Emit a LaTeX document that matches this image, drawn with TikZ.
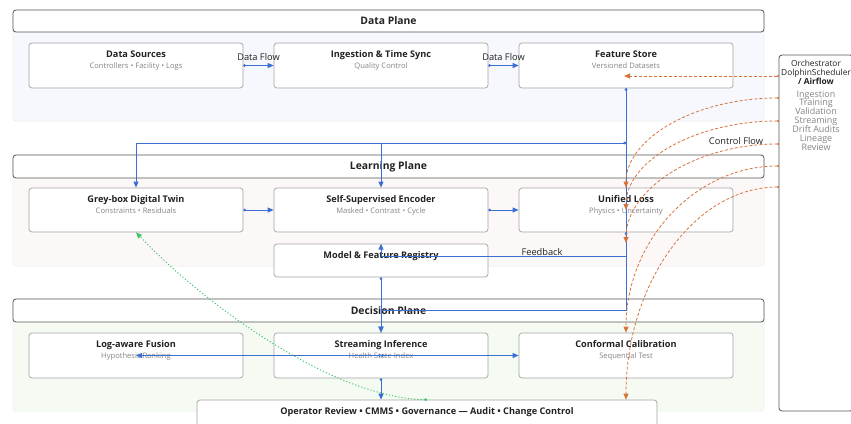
\documentclass[tikz,border=0pt]{standalone}
\usepackage{fontspec}
\setmainfont{Open Sans}
\usetikzlibrary{arrows.meta,calc}
\definecolor{flowblue}{HTML}{3B6FD4}
\definecolor{ctlorange}{HTML}{D9733D}
\definecolor{fbgreen}{HTML}{3CC46A}
\definecolor{hdrline}{HTML}{555555}
\definecolor{boxline}{HTML}{A3A3A3}
\definecolor{subgray}{HTML}{858585}
\definecolor{txtdark}{HTML}{222222}
\definecolor{dpbg}{HTML}{F6F8FE}
\definecolor{lpbg}{HTML}{FDF8F8}
\definecolor{decbg}{HTML}{F5FBF3}
\definecolor{panelline}{HTML}{EDEDED}
\begin{document}
\begin{tikzpicture}[x=1bp,y=-1bp,
  panel/.style={draw=panelline, line width=0.5bp, rounded corners=3bp, inner sep=0pt},
  hdr/.style={draw=hdrline, fill=white, line width=0.8bp, rounded corners=3bp, minimum width=751bp, minimum height=23bp, inner sep=0pt, font=\fontsize{10.4}{12}\selectfont\bfseries, text=txtdark},
  card/.style={draw=boxline, fill=white, line width=0.7bp, rounded corners=3bp, minimum width=214bp, minimum height=45bp, inner sep=0pt},
  ttl/.style={anchor=base, inner sep=0pt, font=\fontsize{9.2}{11}\selectfont\bfseries, text=txtdark},
  sub/.style={anchor=base, inner sep=0pt, font=\fontsize{7.6}{9}\selectfont, text=subgray},
  lbl/.style={inner sep=0pt, font=\fontsize{9.3}{11}\selectfont, text=txtdark},
  orchtxt/.style={anchor=base, inner sep=0pt, font=\fontsize{8.4}{10}\selectfont, text=txtdark},
  orchlist/.style={anchor=base, inner sep=0pt, font=\fontsize{9}{10}\selectfont, text=subgray},
  flow/.style={draw=flowblue, line width=0.9bp, {Circle[length=2.5bp]}-{Triangle[length=6bp,width=5bp]}},
  flowline/.style={draw=flowblue, line width=0.9bp},
  ctl/.style={draw=ctlorange, line width=0.8bp, dash pattern=on 3bp off 2bp, {Circle[length=2bp]}-{Triangle[length=6bp,width=5bp]}},
  fb/.style={draw=fbgreen, line width=0.9bp, dash pattern=on 1.2bp off 2bp, {Circle[length=2.5bp]}-{Triangle[length=6bp,width=5bp]}}
]
\clip (0,0) rectangle (851,423);
\fill[white] (0,0) rectangle (851,423);

% panels
\node[panel, fill=dpbg, minimum width=751bp, minimum height=111bp] (dpp) at (388.5,65.5) {};
\node[panel, fill=lpbg, minimum width=751bp, minimum height=111bp] (lpp) at (388.5,210.5) {};
\node[panel, fill=decbg, minimum width=751bp, minimum height=112bp] (decp) at (388.5,355) {};

% headers
\node[hdr, minimum height=22bp] (dph) at (388.5,21) {Data Plane};
\node[hdr] (lph) at (388.5,166.5) {Learning Plane};
\node[hdr] (decph) at (388.5,310.5) {Decision Plane};

% cards
\node[card] (ds) at (136,65.5) {};
\node[card] (ing) at (381,65.5) {};
\node[card] (fs) at (626,65.5) {};
\node[card, minimum height=44bp] (gb) at (136,210) {};
\node[card, minimum height=44bp] (enc) at (381,210) {};
\node[card, minimum height=44bp] (ul) at (626,210) {};
\node[card, minimum height=33bp] (reg) at (381,260.5) {};
\node[card] (lf) at (136,355.5) {};
\node[card] (si) at (381,355.5) {};
\node[card] (cc) at (626,355.5) {};
\node[card, minimum width=460bp, minimum height=40bp] (op) at (427,420) {};
\node[draw=hdrline, fill=white, line width=0.8bp, rounded corners=3bp, minimum width=74bp, minimum height=356bp, inner sep=0pt] (orch) at (816,233) {};

% card texts
\node[ttl] (ds-t) at ($(ds.north)+(0,15)$) {Data Sources};
\node[sub] (ds-s) at ($(ds.north)+(0,26)$) {Controllers • Facility • Logs};
\node[ttl] (ing-t) at ($(ing.north)+(0,15)$) {Ingestion \& Time Sync};
\node[sub] (ing-s) at ($(ing.north)+(0,26)$) {Quality Control};
\node[ttl] (fs-t) at ($(fs.north)+(0,15)$) {Feature Store};
\node[sub] (fs-s) at ($(fs.north)+(0,26)$) {Versioned Datasets};
\node[ttl] (gb-t) at ($(gb.north)+(0,15)$) {Grey-box Digital Twin};
\node[sub] (gb-s) at ($(gb.north)+(0,26)$) {Constraints • Residuals};
\node[ttl] (enc-t) at ($(enc.north)+(0,15)$) {Self-Supervised Encoder};
\node[sub] (enc-s) at ($(enc.north)+(0,26)$) {Masked • Contrast • Cycle};
\node[ttl] (ul-t) at ($(ul.north)+(0,15)$) {Unified Loss};
\node[sub] (ul-s) at ($(ul.north)+(0,26)$) {Physics • Uncertainty};
\node[ttl] (reg-t) at ($(reg.north)+(0,15)$) {Model \& Feature Registry};
\node[ttl] (lf-t) at ($(lf.north)+(0,15)$) {Log-aware Fusion};
\node[sub] (lf-s) at ($(lf.north)+(0,26)$) {Hypothesis Ranking};
\node[ttl] (si-t) at ($(si.north)+(0,15)$) {Streaming Inference};
\node[sub] (si-s) at ($(si.north)+(0,26)$) {Health State Index};
\node[ttl] (cc-t) at ($(cc.north)+(0,15)$) {Conformal Calibration};
\node[sub] (cc-s) at ($(cc.north)+(0,26)$) {Sequential Test};
\node[ttl] (op-t) at ($(op.north)+(0,15)$) {Operator Review • CMMS • Governance — Audit • Change Control};

% orchestrator texts
\node[orchtxt] (o1) at (816,66) {Orchestrator};
\node[orchtxt] (o2) at (816,75) {DolphinScheduler};
\node[orchtxt, font=\fontsize{8.4}{10}\selectfont\bfseries] (o3) at (816,84) {/ Airflow};
\node[orchlist] (l1) at (816,97) {Ingestion};
\node[orchlist] (l2) at (816,105.9) {Training};
\node[orchlist] (l3) at (816,114.8) {Validation};
\node[orchlist] (l4) at (816,123.7) {Streaming};
\node[orchlist] (l5) at (816,132.6) {Drift Audits};
\node[orchlist] (l6) at (816,141.5) {Lineage};
\node[orchlist] (l7) at (816,150.4) {Review};

% junction coordinates
\coordinate (tj) at (626,143);
\coordinate (fsj) at (626,310);
\coordinate (fbj) at (626,256);

% blue data flow
\draw[flow] (ds.east) -- node[lbl, above=4bp] (df1) {Data Flow} (ing.west);
\draw[flow] (ing.east) -- node[lbl, above=4bp] (df2) {Data Flow} (fs.west);
\draw[flow] (fs.south) -- (fsj) -| (si.north);
\draw[flowline] (fs.south) -- (tj);
\draw[flow] (tj) -| (gb.north);
\draw[flow] (tj) -| (enc.north);
\draw[flow] (gb.east) -- (enc.west);
\draw[flow] (enc.east) -- (ul.west);
\draw[flow] (ul.south) -- (fbj) -| (reg.north);
\node[lbl] (fbl) at (542,252) {Feedback};
\draw[flow] (reg.south) -- (si.north);
\draw[flow] (si.center) -- (lf.center);
\draw[flow] (si.center) -- (cc.west);
\draw[flow] (si.south) -- (si.south |- op.north);

% green feedback
\draw[fb] (op.north) .. controls (330,398) and (200,300) .. (gb.south);

% orange control flow
\coordinate (os0) at (779,76);
\coordinate (os1) at (779,98);
\coordinate (os2) at (779,121);
\coordinate (os3) at (779,144);
\coordinate (os4) at (779,166);
\coordinate (os5) at (779,187);
\coordinate (oe0) at (624,76);
\coordinate (oe3) at (626,243);
\draw[ctl] (os0) -- (oe0);
\draw[ctl] (os1) .. controls (695,98) and (626,138.5) .. (ul.north);
\draw[ctl] (os2) .. controls (695,121) and (626,161) .. (ul.center);
\draw[ctl] (os3) .. controls (695,144) and (626,189.5) .. (oe3);
\draw[ctl] (os4) .. controls (695,166) and (626,241) .. (cc.north);
\draw[ctl] (os5) .. controls (695,187) and (626,283) .. (cc.north |- op.north);
\node[lbl] (cfl) at (736,141) {Control Flow};
\end{tikzpicture}
\end{document}
